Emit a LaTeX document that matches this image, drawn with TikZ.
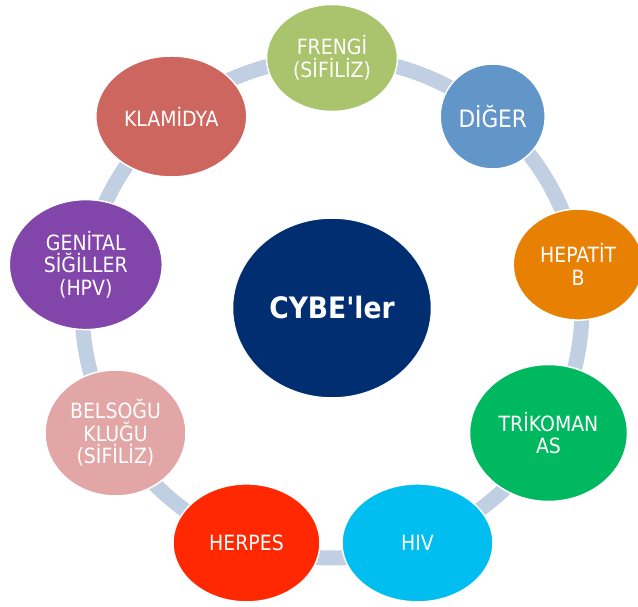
\documentclass[tikz,border=0pt]{standalone}
\usepackage{fontspec}
\setmainfont{DejaVu Sans Condensed}
\usetikzlibrary{shapes.geometric}
\definecolor{cCenter}{RGB}{0,46,112}
\definecolor{cFrengi}{RGB}{169,196,108}
\definecolor{cDiger}{RGB}{98,150,200}
\definecolor{cHepatit}{RGB}{232,128,4}
\definecolor{cTrikoman}{RGB}{0,184,96}
\definecolor{cHiv}{RGB}{0,190,240}
\definecolor{cHerpes}{RGB}{255,40,0}
\definecolor{cBelsogu}{RGB}{225,166,165}
\definecolor{cGenital}{RGB}{130,70,170}
\definecolor{cKlamidya}{RGB}{204,102,94}
\definecolor{cRing}{RGB}{193,207,227}
\pgfdeclarelayer{bg}
\pgfsetlayers{bg,main}
\tikzset{
  blob/.style={ellipse, draw=white, line width=1.5pt, inner sep=0pt,
    text=white, align=center, font=\fontsize{21}{22.5}\selectfont},
  ringarc/.style={draw=cRing, line width=15pt},
}
\begin{document}
\begin{tikzpicture}[x=1pt,y=1pt]
\useasboundingbox (0,0) rectangle (638,606);
\coordinate (c) at (332,298);
\node[blob, fill=cCenter, minimum width=199pt, minimum height=180pt,
  font=\fontsize{29.5}{31}\selectfont\bfseries] (center) at (c) {CYBE\textquotesingle ler};
\path (c) ++(90:250) node[blob, fill=cFrengi, minimum width=131pt, minimum height=107pt] (frengi) {FRENGİ\\(SİFİLİZ)};
\path (c) ++(50:250) node[blob, fill=cDiger, minimum width=105pt, minimum height=105pt, font=\fontsize{24}{26}\selectfont] (diger) {DİĞER};
\path (c) ++(10:250) node[blob, fill=cHepatit, minimum width=130pt, minimum height=111pt] (hepatit) {HEPATİT\\B};
\path (c) ++(-30:250) node[blob, fill=cTrikoman, minimum width=158pt, minimum height=137pt] (trikoman) {TRİKOMAN\\AS};
\path (c) ++(-70:250) node[blob, fill=cHiv, minimum width=151pt, minimum height=118pt] (hiv) {HIV};
\path (c) ++(-110:250) node[blob, fill=cHerpes, minimum width=147pt, minimum height=118pt] (herpes) {HERPES};
\path (c) ++(-150:250) node[blob, fill=cBelsogu, minimum width=141pt, minimum height=126pt] (belsogu) {BELSOĞU\\KLUĞU\\(SİFİLİZ)};
\path (c) ++(170:250) node[blob, fill=cGenital, minimum width=153pt, minimum height=130pt] (genital) {GENİTAL\\SİĞİLLER\\(HPV)};
\path (c) ++(130:250) node[blob, fill=cKlamidya, minimum width=151pt, minimum height=121pt] (klamidya) {KLAMİDYA};
\begin{pgfonlayer}{bg}
\draw[ringarc] (frengi.center) arc[start angle=90, end angle=50, radius=250];
\draw[ringarc] (diger.center) arc[start angle=50, end angle=10, radius=250];
\draw[ringarc] (hepatit.center) arc[start angle=10, end angle=-30, radius=250];
\draw[ringarc] (trikoman.center) arc[start angle=-30, end angle=-70, radius=250];
\draw[ringarc] (hiv.center) arc[start angle=-70, end angle=-110, radius=250];
\draw[ringarc] (herpes.center) arc[start angle=-110, end angle=-150, radius=250];
\draw[ringarc] (belsogu.center) arc[start angle=-150, end angle=-190, radius=250];
\draw[ringarc] (genital.center) arc[start angle=170, end angle=130, radius=250];
\draw[ringarc] (klamidya.center) arc[start angle=130, end angle=90, radius=250];
\end{pgfonlayer}
\end{tikzpicture}
\end{document}
